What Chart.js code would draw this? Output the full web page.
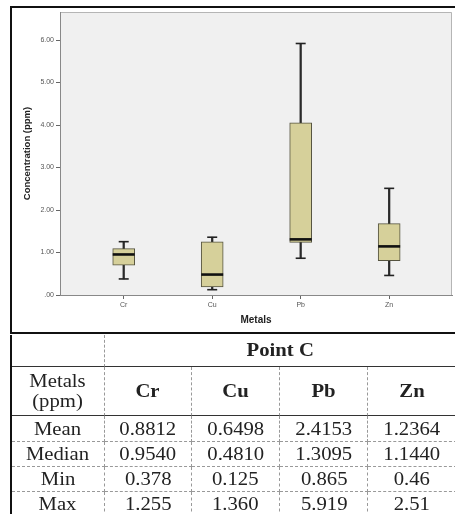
<!DOCTYPE html>
<html><head><meta charset="utf-8">
<script src="https://cdn.jsdelivr.net/npm/chart.js@4.4.1/dist/chart.umd.min.js"></script>
<style>
html,body{margin:0;padding:0;background:#fff;width:455px;height:514px;overflow:hidden;position:relative;}
#c{position:absolute;left:0;top:0;}
#frame{position:absolute;left:10px;top:6px;width:500px;height:324px;border:2.5px solid #111;pointer-events:none;}
#tbl{position:absolute;left:10px;top:335px;border-collapse:separate;border-spacing:0;table-layout:fixed;width:446.5px;border-left:2.5px solid #111;font-family:'Liberation Serif','Times New Roman',serif;color:#222;font-size:18px;}
#tbl td{padding:0;text-align:center;vertical-align:middle;border-right:1px dashed #999;border-bottom:1px dashed #999;box-sizing:border-box;white-space:nowrap;overflow:visible;}
#tbl td span{display:inline-block;transform:scaleX(1.15);}
#tbl tr.r1 td{border-bottom:1.5px solid #333;height:32px;}
#tbl tr.r2 td{border-bottom:1.5px solid #333;height:49px;}
#tbl tr.d td{height:25px;line-height:22px;}
#tbl tr.d.first td{height:26px;}
#tbl td.pt{font-weight:bold;border-right:none;}
#tbl td.hd{font-weight:bold;}
#tbl td.mh{line-height:20px;}
</style>
</head>
<body>
<canvas id="c" width="455" height="335"></canvas>
<div id="frame"></div>
<table id="tbl"></table>
<script>
const categories = ['Cr', 'Cu', 'Pb', 'Zn'];
const minValues = [0.378, 0.125, 0.865, 0.46];
const q1Values = [0.70, 0.19, 1.24, 0.81];
const medianValues = [0.954, 0.481, 1.3095, 1.144];
const q3Values = [1.09, 1.25, 4.05, 1.68];
const maxValues = [1.255, 1.360, 5.919, 2.51];
const yTickValues = [0, 1, 2, 3, 4, 5, 6];
const yTickLabels = ['.00', '1.00', '2.00', '3.00', '4.00', '5.00', '6.00'];
const xTitle = 'Metals';
const yTitle = 'Concentration (ppm)';

const tableTitle = 'Point C';
const tableCorner = ['Metals', '(ppm)'];
const rowLabels = ['Mean', 'Median', 'Min', 'Max'];
const meanText = ['0.8812', '0.6498', '2.4153', '1.2364'];
const medianText = ['0.9540', '0.4810', '1.3095', '1.1440'];
const minText = ['0.378', '0.125', '0.865', '0.46'];
const maxText = ['1.255', '1.360', '5.919', '2.51'];

const sans = "'Liberation Sans', Arial, sans-serif";
const idx = categories.map((_, i) => i);

const plotBg = {
  id: 'plotBg',
  beforeDraw(chart) {
    const { ctx, chartArea: a } = chart;
    ctx.save();
    ctx.fillStyle = '#f0f0f0';
    ctx.fillRect(a.left, a.top, a.right - a.left, a.bottom - a.top);
    ctx.strokeStyle = '#b5b5b5';
    ctx.lineWidth = 1;
    ctx.beginPath();
    ctx.moveTo(a.left, a.top + 0.5);
    ctx.lineTo(a.right - 0.5, a.top + 0.5);
    ctx.lineTo(a.right - 0.5, a.bottom);
    ctx.stroke();
    ctx.restore();
  }
};

new Chart(document.getElementById('c'), {
  type: 'bar',
  data: {
    datasets: [
      {
        type: 'bar', label: 'whisker',
        data: idx.map(i => ({ x: i, y: [minValues[i], maxValues[i]] })),
        backgroundColor: '#2a2a2a', borderWidth: 0, barThickness: 1.6,
        grouped: false, order: 3
      },
      {
        type: 'bar', label: 'box',
        data: idx.map(i => ({ x: i, y: [q1Values[i], q3Values[i]] })),
        backgroundColor: '#d6d09a', borderColor: '#55533f', borderWidth: 1,
        borderSkipped: false, barThickness: 22, grouped: false, order: 2
      },
      {
        type: 'line', label: 'median',
        data: idx.map(i => ({ x: i, y: medianValues[i] })),
        showLine: false, pointStyle: 'line', pointRadius: 11,
        pointBorderWidth: 2.6, pointBorderColor: '#111', order: 1
      },
      {
        type: 'line', label: 'minCap',
        data: idx.map(i => ({ x: i, y: minValues[i] })),
        showLine: false, pointStyle: 'line', pointRadius: 5,
        pointBorderWidth: 1.6, pointBorderColor: '#222', order: 1
      },
      {
        type: 'line', label: 'maxCap',
        data: idx.map(i => ({ x: i, y: maxValues[i] })),
        showLine: false, pointStyle: 'line', pointRadius: 5,
        pointBorderWidth: 1.6, pointBorderColor: '#222', order: 1
      }
    ]
  },
  options: {
    responsive: false,
    animation: false,
    events: [],
    devicePixelRatio: 1,
    layout: { autoPadding: false, padding: { left: 0, top: 12, right: 3, bottom: 0 } },
    plugins: { legend: { display: false }, tooltip: { enabled: false } },
    scales: {
      x: {
        type: 'linear', min: -0.72, max: 3.71, offset: false,
        afterBuildTicks(s) { s.ticks = idx.map(i => ({ value: i })); },
        afterFit(s) { s.height = 40; s.paddingLeft = 0; s.paddingRight = 0; },
        ticks: {
          callback: (v) => categories[v] ?? '',
          font: { family: sans, size: 7 }, color: '#555', padding: 2,
          maxRotation: 0, autoSkip: false
        },
        grid: { display: true, drawOnChartArea: false, drawTicks: true, tickLength: 4, color: '#666', offset: false },
        border: { display: true, color: '#888', width: 1 },
        title: { display: true, text: xTitle, font: { family: sans, size: 10, weight: 'bold' }, color: '#222', padding: { top: 0, bottom: 9 } }
      },
      y: {
        min: 0, max: 6.66,
        afterBuildTicks(s) { s.ticks = yTickValues.map(v => ({ value: v })); },
        afterFit(s) { s.width = 60; s.paddingTop = 0; s.paddingBottom = 0; },
        ticks: {
          callback: (v) => yTickLabels[yTickValues.indexOf(v)],
          font: { family: sans, size: 7 }, color: '#555', padding: 2
        },
        grid: { display: true, drawOnChartArea: false, drawTicks: true, tickLength: 4, color: '#666' },
        border: { display: true, color: '#888', width: 1 },
        title: { display: true, text: yTitle, font: { family: sans, size: 9.5, weight: 'bold' }, color: '#222', padding: { top: 22, bottom: 0 } }
      }
    }
  },
  plugins: [plotBg]
});

// table
const tbl = document.getElementById('tbl');
const sp = (t) => `<span>${t}</span>`;
let html = '<colgroup><col style="width:92.5px"><col style="width:87.5px">' +
  categories.slice(1).map(() => '<col style="width:88px">').join('') + '</colgroup>';
html += `<tr class="r1"><td></td><td colspan="${categories.length}" class="pt">${sp(tableTitle)}</td></tr>`;
html += `<tr class="r2"><td class="mh">${sp(tableCorner.join('<br>'))}</td>` +
  categories.map(c => `<td class="hd">${sp(c)}</td>`).join('') + '</tr>';
const rowsText = [meanText, medianText, minText, maxText];
rowLabels.forEach((lab, r) => {
  html += `<tr class="d${r === 0 ? ' first' : ''}"><td>${sp(lab)}</td>` +
    rowsText[r].map(t => `<td>${sp(t)}</td>`).join('') + '</tr>';
});
tbl.innerHTML = html;
</script>
</body></html>
